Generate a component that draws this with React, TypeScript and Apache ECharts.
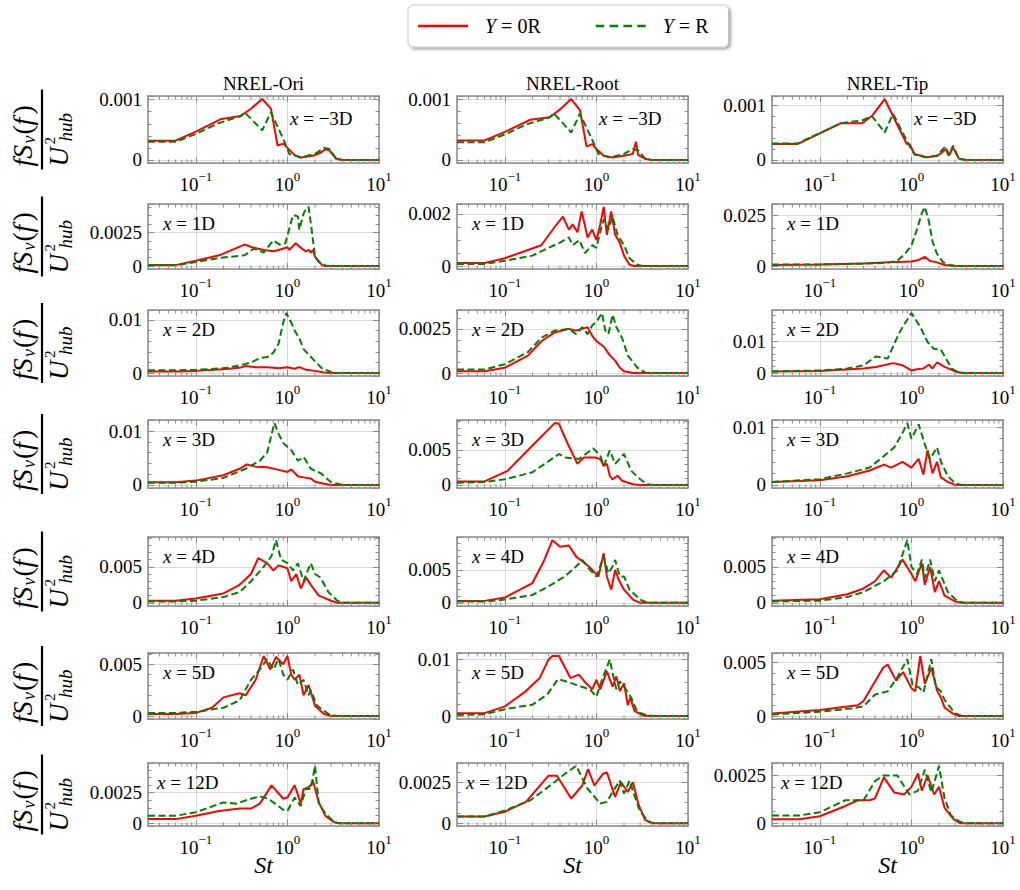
import React, { useEffect, useRef } from 'react';
import * as echarts from 'echarts';

const SERIF = "'Liberation Serif', 'DejaVu Serif', serif";
const RED = '#ff0000';
const GREEN = '#008000';
const FRAME = '#8a8a8a';
const GRIDLINE = '#d9d9d9';

const SERIES_NAMES = ['Y = 0R', 'Y = R'];
const COLUMN_TITLES = ['NREL-Ori', 'NREL-Root', 'NREL-Tip'];
const STATIONS = ['−3D', '1D', '2D', '3D', '4D', '5D', '12D'];
const X_RANGE = [0.03, 10];
const X_MINOR_TICKS = [0.04, 0.05, 0.06, 0.07, 0.08, 0.09, 0.2, 0.3, 0.4, 0.5, 0.6, 0.7, 0.8, 0.9, 2, 3, 4, 5, 6, 7, 8, 9];
const Y_MAJOR_STEP = [
  [0.001, 0.001, 0.001],
  [0.0025, 0.002, 0.025],
  [0.01, 0.0025, 0.01],
  [0.01, 0.005, 0.01],
  [0.005, 0.005, 0.005],
  [0.005, 0.01, 0.005],
  [0.0025, 0.0025, 0.0025],
];

// ---- data: [St, fS_v(f)/U_hub^2] ----
// x = -3D
const ORI_M3_Y0 = [[0.03,0.00032],[0.06,0.00032],[0.1,0.00047],[0.19,0.00068],[0.31,0.00073],[0.4,0.00085],[0.53,0.00101],[0.66,0.00085],[0.78,0.00024],[0.9,0.00027],[1.0,0.0002],[1.2,0.00008],[1.4,0.00004],[1.9,0.00007],[2.3,0.00012],[2.6,0.00018],[2.9,0.00015],[3.4,0.00002],[4,0],[10,0]];
const ORI_M3_YR = [[0.03,0.0003],[0.06,0.0003],[0.1,0.00043],[0.17,0.0006],[0.31,0.00073],[0.34,0.00079],[0.42,0.00065],[0.53,0.00049],[0.66,0.00079],[0.9,0.00035],[1.05,0.0001],[1.4,0.00004],[2.0,0.0001],[2.5,0.0002],[2.9,0.00018],[3.4,0.00002],[4,0],[10,0]];
const ROOT_M3_Y0 = [[0.03,0.00032],[0.06,0.00032],[0.1,0.00046],[0.19,0.00066],[0.31,0.0007],[0.4,0.00083],[0.53,0.001],[0.66,0.00082],[0.78,0.00022],[0.9,0.00026],[1.0,0.00018],[1.2,0.00007],[1.5,0.00004],[2.0,0.00007],[2.5,0.0001],[2.7,0.0003],[2.85,0.00008],[3.4,0.00002],[4,0],[10,0]];
const ROOT_M3_YR = [[0.03,0.00029],[0.06,0.00029],[0.1,0.00042],[0.17,0.00058],[0.31,0.0007],[0.34,0.00077],[0.42,0.00062],[0.53,0.00045],[0.66,0.00076],[0.9,0.00033],[1.05,0.0001],[1.4,0.00004],[2.0,0.0001],[2.5,0.00018],[2.9,0.00015],[3.4,0.00002],[4,0],[10,0]];
const TIP_M3_Y0 = [[0.03,0.00029],[0.057,0.00029],[0.17,0.00067],[0.29,0.00067],[0.37,0.0008],[0.51,0.00111],[0.74,0.00056],[0.89,0.00029],[0.95,0.00029],[1.08,0.00011],[1.45,0.00005],[1.9,0.00007],[2.4,0.0002],[2.6,0.00009],[2.85,0.00023],[3.3,0.00002],[4,0],[10,0]];
const TIP_M3_YR = [[0.03,0.0003],[0.057,0.0003],[0.17,0.00067],[0.29,0.00072],[0.37,0.0008],[0.51,0.0005],[0.63,0.00084],[0.95,0.00026],[1.08,0.0001],[1.45,0.00005],[1.9,0.00008],[2.3,0.00023],[2.55,0.00008],[2.85,0.00026],[3.3,0.00002],[4,0],[10,0]];
// x = 1D
const ORI_1_Y0 = [[0.03,0.00007],[0.06,0.00007],[0.1,0.0004],[0.18,0.0008],[0.34,0.0016],[0.41,0.0014],[0.55,0.0012],[0.7,0.0011],[0.8,0.0012],[1.0,0.0014],[1.05,0.0012],[1.23,0.0017],[1.5,0.0012],[1.6,0.0011],[1.7,0.0012],[1.8,0.001],[1.9,0.0012],[2.0,0.0007],[2.4,0.00005],[2.6,0],[10,0]];
const ORI_1_YR = [[0.03,0.00005],[0.06,0.00005],[0.1,0.0003],[0.18,0.0006],[0.34,0.0008],[0.43,0.0013],[0.55,0.001],[0.7,0.0019],[0.82,0.0016],[0.95,0.0017],[1.15,0.0038],[1.3,0.0037],[1.35,0.0027],[1.5,0.0039],[1.6,0.0043],[1.7,0.0044],[1.8,0.0032],[2.0,0.0007],[2.2,0.0003],[2.6,0.00005],[3,0],[10,0]];
const ROOT_1_Y0 = [[0.03,0.00012],[0.06,0.00012],[0.1,0.0003],[0.25,0.0008],[0.35,0.0015],[0.43,0.0019],[0.5,0.0014],[0.55,0.0016],[0.62,0.0013],[0.69,0.0021],[0.8,0.0011],[0.9,0.0014],[1.0,0.001],[1.1,0.0016],[1.2,0.00227],[1.3,0.0012],[1.45,0.0021],[1.6,0.0012],[1.8,0.0009],[2.0,0.0004],[2.3,0.00005],[2.6,0],[10,0]];
const ROOT_1_YR = [[0.03,0.00008],[0.06,0.00008],[0.1,0.0002],[0.2,0.0004],[0.3,0.0007],[0.4,0.0009],[0.5,0.0011],[0.55,0.0008],[0.65,0.001],[0.75,0.0005],[0.9,0.0008],[1.0,0.0007],[1.1,0.0013],[1.2,0.0018],[1.35,0.0014],[1.5,0.0019],[1.7,0.0012],[2.0,0.0008],[2.3,0.0003],[2.8,0.00005],[3.2,0],[10,0]];
const TIP_1_Y0 = [[0.03,0.0005],[0.1,0.0007],[0.3,0.0012],[0.5,0.0018],[0.7,0.002],[1.0,0.0022],[1.2,0.003],[1.4,0.0045],[1.6,0.0025],[1.9,0.0018],[2.3,0.0005],[2.8,0.0001],[3.5,0],[10,0]];
const TIP_1_YR = [[0.03,0.0007],[0.1,0.0008],[0.3,0.0012],[0.5,0.0015],[0.7,0.0025],[0.85,0.006],[1.0,0.01],[1.15,0.018],[1.3,0.026],[1.4,0.029],[1.55,0.022],[1.7,0.012],[1.9,0.006],[2.2,0.002],[2.6,0.0005],[3.2,0],[10,0]];
// x = 2D
const ORI_2_Y0 = [[0.03,0.0003],[0.06,0.0003],[0.1,0.0004],[0.2,0.0007],[0.3,0.001],[0.35,0.0013],[0.45,0.0011],[0.6,0.0011],[0.8,0.0009],[1.0,0.0011],[1.2,0.0008],[1.35,0.0011],[1.6,0.0006],[2.0,0.0004],[2.5,0.0001],[3,0],[10,0]];
const ORI_2_YR = [[0.03,0.0005],[0.06,0.0005],[0.1,0.0006],[0.2,0.0009],[0.3,0.0014],[0.4,0.002],[0.5,0.0028],[0.6,0.003],[0.7,0.0038],[0.8,0.0055],[0.9,0.0095],[0.97,0.0113],[1.1,0.0095],[1.2,0.008],[1.35,0.0065],[1.5,0.0045],[1.7,0.0035],[2.0,0.0022],[2.4,0.0008],[3.0,0.0002],[3.5,0],[10,0]];
const ROOT_2_Y0 = [[0.03,0.0001],[0.06,0.0001],[0.1,0.0003],[0.18,0.001],[0.25,0.0018],[0.35,0.0023],[0.5,0.0025],[0.6,0.0024],[0.7,0.0025],[0.8,0.0026],[0.9,0.0021],[1.0,0.0018],[1.2,0.0015],[1.4,0.001],[1.6,0.0007],[1.8,0.0003],[2.0,0.0001],[2.5,0],[10,0]];
const ROOT_2_YR = [[0.03,0.0002],[0.06,0.0002],[0.1,0.0005],[0.18,0.0012],[0.25,0.002],[0.35,0.0024],[0.5,0.0025],[0.6,0.0022],[0.7,0.0026],[0.8,0.0022],[0.9,0.0027],[1.0,0.0029],[1.15,0.0034],[1.25,0.0024],[1.35,0.0022],[1.5,0.0033],[1.65,0.0026],[1.9,0.002],[2.2,0.001],[2.8,0.0003],[3.5,0],[10,0]];
const TIP_2_Y0 = [[0.03,0.0005],[0.1,0.0006],[0.3,0.0014],[0.41,0.0019],[0.63,0.0031],[0.8,0.0024],[1.0,0.0008],[1.15,0.0012],[1.35,0.0014],[1.55,0.0026],[1.7,0.0014],[1.9,0.0033],[2.3,0.0019],[3.0,0.0005],[3.6,0],[10,0]];
const TIP_2_YR = [[0.03,0.0005],[0.1,0.0008],[0.2,0.0014],[0.3,0.0024],[0.41,0.0052],[0.55,0.0045],[0.72,0.012],[0.8,0.0144],[1.0,0.0188],[1.25,0.0144],[1.5,0.0097],[1.75,0.0076],[2.1,0.0073],[2.75,0.0014],[3.2,0.0003],[3.8,0],[10,0]];
// x = 3D
const ORI_3_Y0 = [[0.03,0.0005],[0.06,0.0005],[0.1,0.0008],[0.2,0.0018],[0.3,0.003],[0.36,0.0038],[0.45,0.0034],[0.6,0.0033],[0.8,0.0028],[1.0,0.0024],[1.1,0.0029],[1.3,0.0016],[1.5,0.0014],[1.8,0.0012],[2.0,0.0006],[2.5,0.0002],[3,0],[10,0]];
const ORI_3_YR = [[0.03,0.0004],[0.06,0.0004],[0.1,0.0006],[0.2,0.0013],[0.35,0.003],[0.5,0.0045],[0.6,0.006],[0.72,0.0115],[0.8,0.0095],[0.9,0.0078],[1.1,0.0065],[1.3,0.0045],[1.5,0.0052],[1.8,0.003],[2.3,0.0022],[3.0,0.0005],[4,0],[10,0]];
const ROOT_3_Y0 = [[0.03,0.0005],[0.06,0.0005],[0.107,0.002],[0.2,0.0056],[0.35,0.0088],[0.39,0.0087],[0.48,0.006],[0.62,0.003],[0.73,0.0039],[0.96,0.0039],[1.1,0.0037],[1.2,0.0027],[1.3,0.003],[1.4,0.0013],[1.5,0.0008],[1.7,0.0013],[1.9,0.0006],[2.5,0.0001],[3,0],[10,0]];
const ROOT_3_YR = [[0.03,0.0003],[0.06,0.0004],[0.1,0.0008],[0.2,0.0018],[0.39,0.0044],[0.46,0.0039],[0.65,0.0037],[0.92,0.0052],[1.1,0.0042],[1.2,0.0027],[1.4,0.0049],[1.6,0.003],[2.0,0.0044],[2.4,0.002],[3.0,0.0008],[3.6,0.0001],[4.2,0],[10,0]];
const TIP_3_Y0 = [[0.03,0.0005],[0.1,0.0008],[0.2,0.0015],[0.35,0.0025],[0.5,0.0035],[0.6,0.003],[0.8,0.004],[1.0,0.003],[1.2,0.0045],[1.35,0.0018],[1.5,0.006],[1.7,0.002],[1.9,0.004],[2.1,0.0013],[2.5,0.0005],[3,0],[10,0]];
const TIP_3_YR = [[0.03,0.0005],[0.1,0.001],[0.2,0.002],[0.35,0.003],[0.5,0.005],[0.65,0.0065],[0.8,0.009],[0.9,0.0107],[1.0,0.008],[1.2,0.0105],[1.4,0.007],[1.6,0.0045],[1.9,0.0065],[2.1,0.004],[2.5,0.0015],[3,0.0003],[3.5,0],[10,0]];
// x = 4D
const ORI_4_Y0 = [[0.03,0.0003],[0.06,0.0003],[0.1,0.0006],[0.2,0.0013],[0.3,0.0025],[0.4,0.004],[0.48,0.0062],[0.6,0.0055],[0.7,0.0045],[0.8,0.0052],[1.0,0.0048],[1.1,0.003],[1.25,0.004],[1.4,0.002],[1.6,0.0035],[1.8,0.0025],[2.2,0.001],[3,0.0003],[3.5,0],[10,0]];
const ORI_4_YR = [[0.03,0.0002],[0.06,0.0002],[0.1,0.0003],[0.2,0.0008],[0.3,0.0015],[0.4,0.003],[0.55,0.005],[0.67,0.0065],[0.75,0.0087],[0.85,0.006],[1.0,0.0055],[1.15,0.0045],[1.3,0.0055],[1.5,0.003],[1.8,0.0055],[2.0,0.004],[2.3,0.0035],[2.8,0.0015],[3.5,0.0003],[4.2,0],[10,0]];
const ROOT_4_Y0 = [[0.03,0.0003],[0.06,0.0003],[0.1,0.0008],[0.2,0.003],[0.27,0.0065],[0.33,0.0095],[0.4,0.0085],[0.5,0.0087],[0.6,0.007],[0.75,0.006],[0.9,0.005],[1.05,0.004],[1.2,0.0075],[1.3,0.004],[1.45,0.002],[1.6,0.005],[1.75,0.0035],[2.0,0.002],[2.5,0.0005],[3,0],[10,0]];
const ROOT_4_YR = [[0.03,0.0002],[0.06,0.0002],[0.1,0.0005],[0.2,0.0012],[0.3,0.0025],[0.45,0.004],[0.6,0.0055],[0.7,0.0065],[0.85,0.005],[1.0,0.004],[1.2,0.007],[1.35,0.0045],[1.5,0.0055],[1.6,0.0065],[1.8,0.004],[2.0,0.004],[2.3,0.002],[3,0.0005],[3.6,0],[10,0]];
const TIP_4_Y0 = [[0.03,0.0003],[0.1,0.0005],[0.2,0.0012],[0.3,0.002],[0.4,0.003],[0.5,0.0045],[0.6,0.0035],[0.8,0.006],[1.0,0.004],[1.1,0.003],[1.3,0.0055],[1.4,0.0025],[1.6,0.005],[1.8,0.0015],[2.0,0.003],[2.3,0.001],[3,0.0002],[3.5,0],[10,0]];
const TIP_4_YR = [[0.03,0.0002],[0.1,0.0003],[0.2,0.0008],[0.3,0.0015],[0.5,0.003],[0.7,0.0045],[0.9,0.0087],[1.0,0.005],[1.15,0.004],[1.3,0.006],[1.4,0.0035],[1.6,0.006],[1.8,0.003],[2.0,0.0045],[2.5,0.0015],[3.2,0.0002],[3.8,0],[10,0]];
// x = 5D
const ORI_5_Y0 = [[0.03,0.0002],[0.06,0.0002],[0.1,0.0003],[0.15,0.0008],[0.2,0.0018],[0.3,0.0022],[0.35,0.002],[0.45,0.0035],[0.55,0.0058],[0.65,0.0045],[0.75,0.0057],[0.9,0.005],[1.0,0.0058],[1.1,0.004],[1.2,0.0035],[1.35,0.004],[1.5,0.002],[1.7,0.003],[2.0,0.001],[2.5,0.0002],[3,0],[10,0]];
const ORI_5_YR = [[0.03,0.0003],[0.06,0.0003],[0.1,0.0004],[0.2,0.0008],[0.3,0.0015],[0.4,0.0035],[0.5,0.0045],[0.6,0.0055],[0.7,0.0045],[0.8,0.0055],[0.9,0.004],[1.0,0.0035],[1.15,0.0045],[1.3,0.003],[1.5,0.0035],[1.7,0.002],[1.8,0.0025],[2.1,0.001],[2.8,0.0002],[3.4,0],[10,0]];
const ROOT_5_Y0 = [[0.03,0.0005],[0.06,0.0005],[0.1,0.0017],[0.17,0.0044],[0.24,0.0067],[0.3,0.01],[0.33,0.0106],[0.39,0.0106],[0.52,0.0067],[0.64,0.0073],[0.74,0.0061],[0.9,0.0047],[1.0,0.0064],[1.1,0.0047],[1.3,0.0079],[1.5,0.0052],[1.65,0.007],[1.8,0.0044],[2.0,0.0058],[2.2,0.0019],[2.35,0.0032],[2.6,0.0009],[3.2,0.0001],[3.8,0],[10,0]];
const ROOT_5_YR = [[0.03,0.0002],[0.06,0.0003],[0.1,0.0012],[0.2,0.002],[0.29,0.0038],[0.38,0.0065],[0.47,0.0061],[0.65,0.0053],[0.85,0.0047],[1.0,0.0034],[1.15,0.0064],[1.4,0.01],[1.5,0.0076],[1.65,0.0047],[1.8,0.0061],[2.0,0.0052],[2.4,0.0032],[2.8,0.0007],[3.6,0.0001],[4.2,0],[10,0]];
const TIP_5_Y0 = [[0.03,0.00024],[0.1,0.00055],[0.26,0.001],[0.3,0.0014],[0.38,0.0029],[0.49,0.0045],[0.55,0.0048],[0.68,0.0033],[0.81,0.0041],[1.0,0.0026],[1.1,0.0023],[1.25,0.0056],[1.4,0.003],[1.65,0.0045],[1.9,0.0024],[2.1,0.0017],[2.3,0.0008],[2.8,0.00025],[3.3,0],[10,0]];
const TIP_5_YR = [[0.03,0.00015],[0.1,0.0004],[0.22,0.0007],[0.3,0.0009],[0.4,0.002],[0.55,0.0023],[0.7,0.0036],[0.9,0.0053],[1.03,0.0029],[1.2,0.0027],[1.35,0.0022],[1.65,0.0053],[1.85,0.0027],[2.1,0.0023],[2.3,0.0015],[3.0,0.00025],[3.6,0],[10,0]];
// x = 12D
const ORI_12_Y0 = [[0.03,0.00033],[0.06,0.00033],[0.1,0.0006],[0.18,0.001],[0.3,0.0012],[0.4,0.0012],[0.5,0.0016],[0.67,0.0031],[0.9,0.002],[1.0,0.0021],[1.2,0.0031],[1.4,0.0016],[1.5,0.0028],[1.6,0.0028],[1.8,0.0031],[1.9,0.0035],[2.2,0.0017],[2.6,0.0006],[3.2,0.0001],[3.6,0],[10,0]];
const ORI_12_YR = [[0.03,0.0006],[0.06,0.0006],[0.1,0.0009],[0.2,0.0017],[0.28,0.0016],[0.36,0.0019],[0.5,0.0022],[0.62,0.002],[0.9,0.0011],[1.0,0.001],[1.2,0.0021],[1.4,0.0014],[1.6,0.0029],[1.8,0.0028],[2.0,0.0047],[2.2,0.0016],[2.6,0.0008],[3.2,0.0001],[3.6,0],[10,0]];
const ROOT_12_Y0 = [[0.03,0.0004],[0.06,0.0004],[0.1,0.0007],[0.17,0.0013],[0.3,0.0029],[0.37,0.0029],[0.53,0.0015],[0.7,0.0023],[0.81,0.0033],[0.95,0.0023],[1.17,0.003],[1.3,0.0031],[1.6,0.0016],[1.85,0.0025],[2.2,0.0019],[2.5,0.0025],[2.9,0.0011],[3.4,0.0002],[4,0],[10,0]];
const ROOT_12_YR = [[0.03,0.0004],[0.06,0.0004],[0.1,0.00077],[0.19,0.0014],[0.33,0.0024],[0.45,0.003],[0.6,0.0035],[0.8,0.0021],[1.1,0.0012],[1.3,0.0013],[1.5,0.0019],[1.8,0.0026],[2.0,0.0018],[2.3,0.0026],[2.6,0.0017],[3.0,0.0007],[3.7,0.0001],[4.2,0],[10,0]];
const TIP_12_Y0 = [[0.03,0.0002],[0.06,0.0002],[0.1,0.00036],[0.19,0.0009],[0.26,0.0012],[0.35,0.0012],[0.4,0.0013],[0.5,0.0024],[0.65,0.0016],[0.83,0.0015],[1.0,0.0019],[1.18,0.0026],[1.3,0.0017],[1.5,0.0025],[1.77,0.0015],[2.0,0.0019],[2.3,0.0008],[2.9,0.0002],[3.4,0],[10,0]];
const TIP_12_YR = [[0.03,0.0004],[0.06,0.0004],[0.1,0.00057],[0.19,0.0012],[0.3,0.0012],[0.4,0.0022],[0.5,0.0025],[0.7,0.0025],[0.95,0.0015],[1.18,0.0017],[1.4,0.0028],[1.65,0.0016],[2.0,0.003],[2.3,0.0013],[2.7,0.0004],[3.3,0.0001],[3.8,0],[10,0]];

const PANELS = [
  [[ORI_M3_Y0, ORI_M3_YR], [ROOT_M3_Y0, ROOT_M3_YR], [TIP_M3_Y0, TIP_M3_YR]],
  [[ORI_1_Y0, ORI_1_YR], [ROOT_1_Y0, ROOT_1_YR], [TIP_1_Y0, TIP_1_YR]],
  [[ORI_2_Y0, ORI_2_YR], [ROOT_2_Y0, ROOT_2_YR], [TIP_2_Y0, TIP_2_YR]],
  [[ORI_3_Y0, ORI_3_YR], [ROOT_3_Y0, ROOT_3_YR], [TIP_3_Y0, TIP_3_YR]],
  [[ORI_4_Y0, ORI_4_YR], [ROOT_4_Y0, ROOT_4_YR], [TIP_4_Y0, TIP_4_YR]],
  [[ORI_5_Y0, ORI_5_YR], [ROOT_5_Y0, ROOT_5_YR], [TIP_5_Y0, TIP_5_YR]],
  [[ORI_12_Y0, ORI_12_YR], [ROOT_12_Y0, ROOT_12_YR], [TIP_12_Y0, TIP_12_YR]],
];

// ---- layout ----
const COL_LEFT = [148, 457, 772];
const COL_WIDTH = 231;
const ROW_TOP = [96, 204, 310, 420, 537, 653, 763];
const ROW_BOTTOM = [163, 269, 376, 488, 606, 719, 826];

const TEXT_MID = { textVerticalAlign: 'middle', verticalAlign: 'middle' };

function buildOption() {
  const grid: any[] = [];
  const xAxis: any[] = [];
  const yAxis: any[] = [];
  const series: any[] = [];
  const graphic: any[] = [];
  const xMin = Math.log10(X_RANGE[0]);
  const xMax = Math.log10(X_RANGE[1]);
  const frameLine = { show: true, onZero: false, lineStyle: { color: FRAME, width: 1.5 } };
  const tick = { show: true, inside: true, length: 6, lineStyle: { color: FRAME, width: 1 } };

  PANELS.forEach((row, r) => {
    row.forEach((pair, c) => {
      const g = r * 3 + c;
      const top = ROW_TOP[r];
      const h = ROW_BOTTOM[r] - ROW_TOP[r];
      grid.push({ left: COL_LEFT[c], top, width: COL_WIDTH, height: h });
      const step = Y_MAJOR_STEP[r][c];
      const peak = Math.max(...pair[0].map((p) => p[1]), ...pair[1].map((p) => p[1]));
      const yMin = -0.05 * peak;
      const yMax = 1.05 * peak;
      const mant = step / Math.pow(10, Math.floor(Math.log10(step) + 1e-9));
      const ndiv = Math.abs(mant - 1) < 1e-6 || Math.abs(mant - 5) < 1e-6 ? 5 : 4;

      xAxis.push({
        type: 'value', gridIndex: g, position: 'bottom', min: xMin, max: xMax,
        minInterval: 1, maxInterval: 1,
        axisLine: frameLine, axisTick: tick,
        splitLine: { show: true, lineStyle: { color: GRIDLINE, width: 1 } },
        axisLabel: {
          show: true, margin: 7, showMinLabel: false, color: '#000',
          formatter: (v: number) => {
            const e = Math.round(v);
            if (Math.abs(v - e) > 1e-6) return '';
            return '{b|10}{s|' + (e < 0 ? '−' + -e : String(e)) + '}';
          },
          rich: {
            b: { fontFamily: SERIF, fontSize: 19, color: '#000', lineHeight: 24, verticalAlign: 'bottom' },
            s: { fontFamily: SERIF, fontSize: 13, color: '#000', lineHeight: 14, verticalAlign: 'top' },
          },
        },
      });
      xAxis.push({
        type: 'value', gridIndex: g, position: 'top', min: xMin, max: xMax,
        minInterval: 1, maxInterval: 1,
        axisLine: frameLine, axisTick: tick, splitLine: { show: false }, axisLabel: { show: false },
      });
      const yCommon = {
        type: 'value', gridIndex: g, min: yMin, max: yMax, minInterval: step, maxInterval: step,
        axisLine: frameLine, axisTick: tick,
        minorTick: { show: true, splitNumber: ndiv, length: 3.5, lineStyle: { color: FRAME, width: 1 } },
      };
      yAxis.push({
        ...yCommon, position: 'left',
        splitLine: { show: true, lineStyle: { color: GRIDLINE, width: 1 } },
        axisLabel: {
          show: true, margin: 6, showMinLabel: false, showMaxLabel: false,
          fontFamily: SERIF, fontSize: 19, color: '#000',
          formatter: (v: number) => {
            if (Math.abs(v) < step * 1e-6) return '0';
            const k = v / step;
            if (Math.abs(k - Math.round(k)) > 1e-6) return '';
            return String(+v.toPrecision(6));
          },
        },
      });
      yAxis.push({ ...yCommon, position: 'right', splitLine: { show: false }, axisLabel: { show: false } });

      series.push({
        type: 'line', name: SERIES_NAMES[0], xAxisIndex: 2 * g, yAxisIndex: 2 * g,
        data: pair[0].map(([s, v]) => [Math.log10(s), v]),
        showSymbol: false, symbol: 'none', silent: true, z: 3,
        lineStyle: { color: RED, width: 2 }, itemStyle: { color: RED, borderWidth: 0 },
      });
      series.push({
        type: 'line', name: SERIES_NAMES[1], xAxisIndex: 2 * g, yAxisIndex: 2 * g,
        data: pair[1].map(([s, v]) => [Math.log10(s), v]),
        showSymbol: false, symbol: 'none', silent: true, z: 4,
        lineStyle: { color: GREEN, width: 2, type: [7, 3.5] }, itemStyle: { color: GREEN, borderWidth: 0 },
      });
      series.push({
        type: 'custom', name: 'minor-' + g, xAxisIndex: 2 * g, yAxisIndex: 2 * g, silent: true, z: 5,
        data: X_MINOR_TICKS.map((s) => [Math.log10(s), 0]),
        renderItem: (params: any, api: any) => {
          const x = api.coord([api.value(0), 0])[0];
          const cs = params.coordSys;
          return {
            type: 'group',
            children: [
              { type: 'line', shape: { x1: x, y1: cs.y + cs.height, x2: x, y2: cs.y + cs.height - 3.5 }, style: { stroke: FRAME, lineWidth: 1 } },
              { type: 'line', shape: { x1: x, y1: cs.y, x2: x, y2: cs.y + 3.5 }, style: { stroke: FRAME, lineWidth: 1 } },
            ],
          };
        },
      });

      // station annotation
      const first = r === 0;
      const last = r === PANELS.length - 1;
      graphic.push({
        type: 'text',
        x: COL_LEFT[c] + (first ? 142 : last ? 9 : 15),
        y: top + (first ? 22 : 19),
        style: {
          text: '{i|x} = ' + STATIONS[r],
          fontFamily: SERIF, fontSize: 19, fill: '#000', ...TEXT_MID,
          rich: { i: { fontFamily: SERIF, fontSize: 19, fontStyle: 'italic' } },
        },
        z: 10,
      });
    });

    // y-axis fraction label for the row (rotated, reads bottom to top)
    const cy = (ROW_TOP[r] + ROW_BOTTOM[r]) / 2;
    const it = (text: string, x: number, y: number, size: number, italic: boolean) => ({
      type: 'text', x, y,
      style: {
        text, fontFamily: SERIF, fontSize: size, fontStyle: italic ? 'italic' : 'normal',
        fill: '#000', textAlign: 'left', align: 'left', ...TEXT_MID,
      },
    });
    graphic.push({
      type: 'group', x: 42, y: cy, rotation: Math.PI / 2,
      children: [
        it('fS', -37, -20, 28, true),
        it('v', -14, -13, 18, true),
        it('(', -5, -20, 28, false),
        it('f', 4, -20, 28, true),
        it(')', 15, -20, 28, false),
        { type: 'line', shape: { x1: -40, y1: 0, x2: 40, y2: 0 }, style: { stroke: '#000', lineWidth: 2.2 } },
        it('U', -37, 17, 27, true),
        it('2', -15, 8, 15, false),
        it('hub', -12, 23, 19, true),
      ],
    });
  });

  COLUMN_TITLES.forEach((t, c) => {
    const cx = COL_LEFT[c] + COL_WIDTH / 2;
    graphic.push({
      type: 'text', x: cx, y: 83,
      style: { text: t, fontFamily: SERIF, fontSize: 19, fill: '#000', textAlign: 'center', align: 'center', ...TEXT_MID },
    });
    graphic.push({
      type: 'text', x: cx, y: 865,
      style: { text: 'St', fontFamily: SERIF, fontSize: 24, fontStyle: 'italic', fill: '#000', textAlign: 'center', align: 'center', ...TEXT_MID },
    });
  });

  return {
    animation: false,
    backgroundColor: '#ffffff',
    legend: {
      data: [
        { name: SERIES_NAMES[0], icon: 'rect' },
        { name: SERIES_NAMES[1], icon: 'path://M0,0h8v1h-8z M13,0h8v1h-8z M26,0h8v1h-8z M39,0h8v1h-8z' },
      ],
      left: 408, top: 5,
      padding: [11, 20, 11, 10],
      itemGap: 55, itemWidth: 50, itemHeight: 2.5,
      symbolKeepAspect: false,
      itemStyle: { borderWidth: 0 },
      backgroundColor: '#ffffff',
      borderColor: '#c8c8c8', borderWidth: 1, borderRadius: 5,
      shadowColor: 'rgba(0,0,0,0.35)', shadowBlur: 3, shadowOffsetX: 2, shadowOffsetY: 2,
      selectedMode: false,
      formatter: (name: string) => (name === SERIES_NAMES[0] ? '{i|Y} = 0R' : '{i|Y} = R'),
      textStyle: {
        fontFamily: SERIF, fontSize: 20, color: '#000', padding: [0, 0, 0, 12],
        rich: { i: { fontFamily: SERIF, fontSize: 20, fontStyle: 'italic', color: '#000' } },
      },
    },
    grid, xAxis, yAxis, series, graphic,
  };
}

export default function App() {
  const ref = useRef<HTMLDivElement>(null);
  useEffect(() => {
    if (!ref.current) return;
    const chart = echarts.init(ref.current, undefined, { renderer: 'svg' });
    chart.setOption(buildOption() as any);
    return () => chart.dispose();
  }, []);
  return <div ref={ref} style={{ position: 'fixed', left: 0, top: 0, width: 1020, height: 890, background: '#fff' }} />;
}
